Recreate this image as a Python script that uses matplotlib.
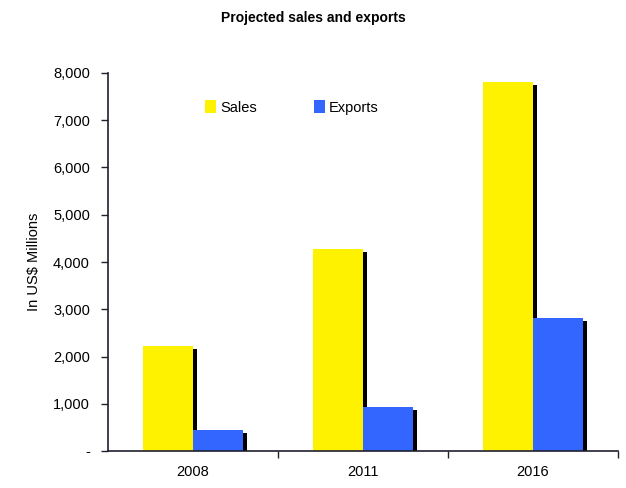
import numpy as np
import matplotlib
matplotlib.use('Agg')
import matplotlib.pyplot as plt
import matplotlib.patheffects as pe
from matplotlib.ticker import FuncFormatter

# chart data
years = ['2008', '2011', '2016']
sales = [2220, 4270, 7810]
exports = [450, 940, 2810]

SALES_COL = '#FFF200'
EXPORTS_COL = '#3366FF'
plt.rcParams['font.family'] = ['Liberation Sans', 'DejaVu Sans']
fs = 10.5

fig = plt.figure(figsize=(6.26, 4.88), dpi=100)
ax = fig.add_axes([108 / 626, 37 / 488, 510 / 626, 378 / 488])

x = np.arange(len(years))
w = 0.294
shadow = [pe.SimplePatchShadow(offset=(2.9, -2.2), shadow_rgbFace='black', alpha=1.0), pe.Normal()]

b1 = ax.bar(x - w / 2, sales, w, color=SALES_COL, label='Sales', zorder=2)
b2 = ax.bar(x + w / 2, exports, w, color=EXPORTS_COL, label='Exports', zorder=2)
for bars in (b1, b2):
    for b in bars:
        b.set_path_effects(shadow)

ax.set_xlim(-0.5, 2.5)
ax.set_ylim(0, 8000)
ax.set_yticks(np.arange(0, 8001, 1000))
ax.yaxis.set_major_formatter(FuncFormatter(lambda v, p: '-' if v == 0 else f'{int(v):,}'))
ax.set_xticks(x)
ax.set_xticklabels(years)
ax.set_xticks([0.5, 1.5, 2.5], minor=True)
ax.tick_params(axis='x', which='major', length=0, pad=10, labelsize=fs)
ax.tick_params(axis='x', which='minor', length=5, width=1, color='#202030')
ax.tick_params(axis='y', length=5, width=1, color='#202030', labelsize=fs, pad=8)

for s in ('top', 'right'):
    ax.spines[s].set_visible(False)
for s in ('left', 'bottom'):
    ax.spines[s].set_color('#202030')
    ax.spines[s].set_linewidth(1.2)
    ax.spines[s].set_zorder(3)

ax.set_ylabel('In US$ Millions', fontsize=fs, labelpad=9)
fig.text(0.5, 1 - 18 / 488, 'Projected sales and exports', ha='center', va='center',
         fontsize=10, fontweight='bold')

leg = ax.legend(loc='upper left', bbox_to_anchor=(0.164, 0.962), ncol=2, frameon=False,
                handlelength=0.75, handleheight=0.9, handletextpad=0.3,
                columnspacing=3.9, fontsize=fs)
for h in leg.legend_handles:
    h.set_path_effects([])

fig.savefig('out.png', dpi=100)
